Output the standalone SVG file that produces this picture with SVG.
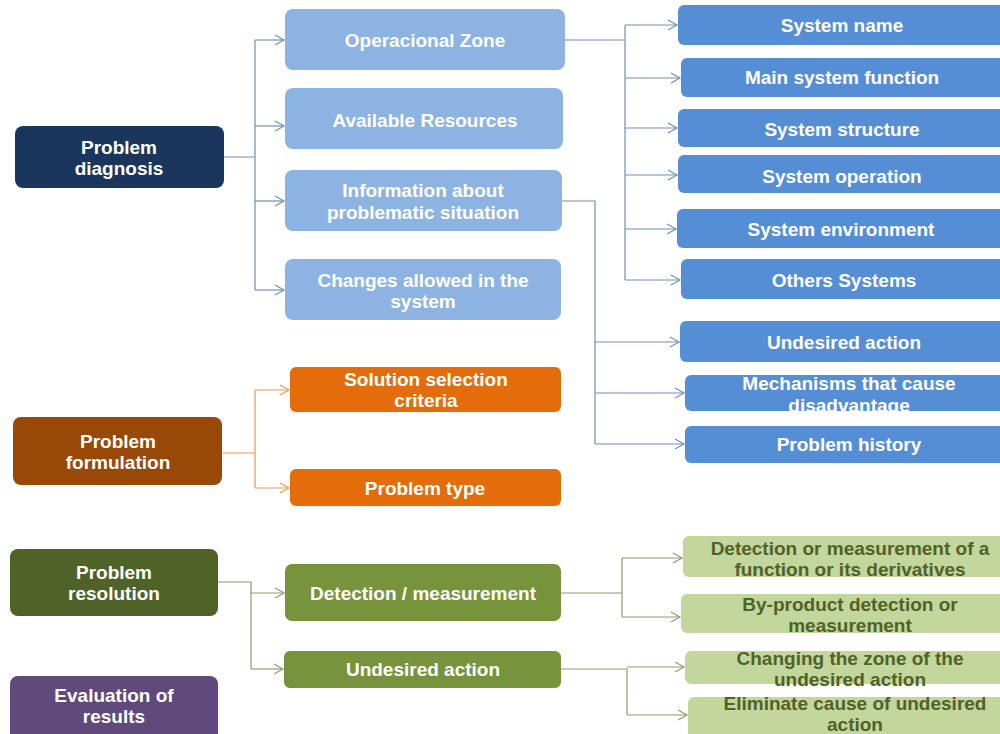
<svg xmlns="http://www.w3.org/2000/svg" width="1000" height="734" viewBox="0 0 1000 734">
  <defs>
    <marker id="arrBlue" markerUnits="userSpaceOnUse" markerWidth="12" markerHeight="12" refX="10" refY="6" orient="auto">
      <path d="M1,1 L10,6 L1,11" fill="none" stroke="#6f8fb8" stroke-width="1.2"/>
    </marker>
    <marker id="arrOrange" markerUnits="userSpaceOnUse" markerWidth="12" markerHeight="12" refX="10" refY="6" orient="auto">
      <path d="M1,1 L10,6 L1,11" fill="none" stroke="#e39a55" stroke-width="1.2"/>
    </marker>
    <marker id="arrGreen" markerUnits="userSpaceOnUse" markerWidth="12" markerHeight="12" refX="10" refY="6" orient="auto">
      <path d="M1,1 L10,6 L1,11" fill="none" stroke="#8e9c6a" stroke-width="1.2"/>
    </marker>
  </defs>
  <style>
    text { font-family: "Liberation Sans", Arial, sans-serif; font-weight: bold; font-size: 19px; text-anchor: middle; dominant-baseline: central; fill: #ffffff; }
    .navy { fill: #1a365c; }
    .lblue { fill: #8db3e2; }
    .mblue { fill: #558ed5; }
    .brown { fill: #984807; }
    .orange { fill: #e46c0a; }
    .olive { fill: #4f6228; }
    .green { fill: #77933c; }
    .lgreen { fill: #c3d69b; }
    .purple { fill: #604a7b; }
    text.dark { fill: #4f6228; }
    .cb { fill: none; stroke: #6f8fb8; stroke-width: 1.2; }
    .co { fill: none; stroke: #e39a55; stroke-width: 1.2; }
    .cg { fill: none; stroke: #8e9c6a; stroke-width: 1.2; }
  </style>
  <rect width="1000" height="734" fill="#ffffff"/>

  <!-- connectors -->
  <g id="connectors">
    <!-- diagnosis branch -->
    <path class="cb" d="M224,157 H255 M255,40 V290"/>
    <path class="cb" d="M255,40 H284" marker-end="url(#arrBlue)"/>
    <path class="cb" d="M255,126 H284" marker-end="url(#arrBlue)"/>
    <path class="cb" d="M255,201 H284" marker-end="url(#arrBlue)"/>
    <path class="cb" d="M255,290 H284" marker-end="url(#arrBlue)"/>
    <!-- operational zone branch -->
    <path class="cb" d="M565,40 H625 M625,25 V280"/>
    <path class="cb" d="M625,25 H677" marker-end="url(#arrBlue)"/>
    <path class="cb" d="M625,78 H680" marker-end="url(#arrBlue)"/>
    <path class="cb" d="M625,128 H677" marker-end="url(#arrBlue)"/>
    <path class="cb" d="M625,175 H677" marker-end="url(#arrBlue)"/>
    <path class="cb" d="M625,229 H676" marker-end="url(#arrBlue)"/>
    <path class="cb" d="M625,280 H680" marker-end="url(#arrBlue)"/>
    <!-- problematic situation branch -->
    <path class="cb" d="M562,201 H595 V444"/>
    <path class="cb" d="M595,342 H679" marker-end="url(#arrBlue)"/>
    <path class="cb" d="M595,393 H684" marker-end="url(#arrBlue)"/>
    <path class="cb" d="M595,444 H684" marker-end="url(#arrBlue)"/>
    <!-- formulation branch -->
    <path class="co" d="M222,453 H255 M255,390 V488"/>
    <path class="co" d="M255,390 H289" marker-end="url(#arrOrange)"/>
    <path class="co" d="M255,488 H289" marker-end="url(#arrOrange)"/>
    <!-- resolution branch -->
    <path class="cg" d="M218,582 H251 V669"/>
    <path class="cg" d="M251,593 H284" marker-end="url(#arrGreen)"/>
    <path class="cg" d="M251,669 H283" marker-end="url(#arrGreen)"/>
    <!-- detection branch -->
    <path class="cg" d="M561,593 H622 M622,558 V617"/>
    <path class="cg" d="M622,558 H682" marker-end="url(#arrGreen)"/>
    <path class="cg" d="M622,617 H680" marker-end="url(#arrGreen)"/>
    <!-- undesired action branch -->
    <path class="cg" d="M561,669 H627 V715"/>
    <path class="cg" d="M627,667 H684" marker-end="url(#arrGreen)"/>
    <path class="cg" d="M627,715 H687" marker-end="url(#arrGreen)"/>
  </g>

  <!-- level 1 -->
  <g id="problem-diagnosis">
    <rect class="navy" x="15" y="126" width="209" height="62" rx="8"/>
    <text x="119" y="147">Problem</text>
    <text x="119" y="168">diagnosis</text>
  </g>
  <g id="problem-formulation">
    <rect class="brown" x="13" y="417" width="209" height="68" rx="8"/>
    <text x="118" y="441">Problem</text>
    <text x="118" y="462">formulation</text>
  </g>
  <g id="problem-resolution">
    <rect class="olive" x="10" y="549" width="208" height="67" rx="8"/>
    <text x="114" y="572">Problem</text>
    <text x="114" y="593">resolution</text>
  </g>
  <g id="evaluation-of-results">
    <rect class="purple" x="10" y="676" width="208" height="66" rx="8"/>
    <text x="114" y="695">Evaluation of</text>
    <text x="114" y="716">results</text>
  </g>

  <!-- level 2 -->
  <g id="operational-zone">
    <rect class="lblue" x="285" y="9" width="280" height="61" rx="8"/>
    <text x="425" y="40">Operacional Zone</text>
  </g>
  <g id="available-resources">
    <rect class="lblue" x="285" y="88" width="278" height="61" rx="8"/>
    <text x="425" y="120">Available Resources</text>
  </g>
  <g id="problematic-situation">
    <rect class="lblue" x="285" y="170" width="277" height="61" rx="8"/>
    <text x="423" y="190">Information about</text>
    <text x="423" y="212">problematic situation</text>
  </g>
  <g id="changes-allowed">
    <rect class="lblue" x="285" y="259" width="276" height="61" rx="8"/>
    <text x="423" y="280">Changes allowed in the</text>
    <text x="423" y="301">system</text>
  </g>
  <g id="solution-selection">
    <rect class="orange" x="290" y="367" width="271" height="45" rx="6"/>
    <text x="426" y="379">Solution selection</text>
    <text x="426" y="400">criteria</text>
  </g>
  <g id="problem-type">
    <rect class="orange" x="290" y="469" width="271" height="37" rx="6"/>
    <text x="425" y="488">Problem type</text>
  </g>
  <g id="detection-measurement">
    <rect class="green" x="285" y="564" width="276" height="57" rx="7"/>
    <text x="423" y="593">Detection / measurement</text>
  </g>
  <g id="undesired-action-res">
    <rect class="green" x="284" y="651" width="277" height="37" rx="6"/>
    <text x="423" y="669">Undesired action</text>
  </g>

  <!-- level 3: operational zone details -->
  <g id="system-name">
    <rect class="mblue" x="678" y="5" width="334" height="40" rx="6"/>
    <text x="842" y="25">System name</text>
  </g>
  <g id="main-system-function">
    <rect class="mblue" x="681" y="58" width="331" height="39" rx="6"/>
    <text x="842" y="77">Main system function</text>
  </g>
  <g id="system-structure">
    <rect class="mblue" x="678" y="109" width="334" height="38" rx="6"/>
    <text x="842" y="129">System structure</text>
  </g>
  <g id="system-operation">
    <rect class="mblue" x="678" y="155" width="334" height="38" rx="6"/>
    <text x="842" y="176">System operation</text>
  </g>
  <g id="system-environment">
    <rect class="mblue" x="677" y="209" width="335" height="39" rx="6"/>
    <text x="841" y="229">System environment</text>
  </g>
  <g id="others-systems">
    <rect class="mblue" x="681" y="259" width="331" height="40" rx="6"/>
    <text x="844" y="280">Others  Systems</text>
  </g>

  <!-- level 3: problematic situation details -->
  <g id="undesired-action-diag">
    <rect class="mblue" x="680" y="321" width="332" height="41" rx="6"/>
    <text x="844" y="342">Undesired action</text>
  </g>
  <g id="mechanisms">
    <rect class="mblue" x="685" y="375" width="327" height="36" rx="6"/>
    <text x="849" y="383">Mechanisms that cause</text>
    <text x="849" y="405">disadvantage</text>
  </g>
  <g id="problem-history">
    <rect class="mblue" x="685" y="426" width="327" height="37" rx="6"/>
    <text x="849" y="444">Problem history</text>
  </g>

  <!-- level 3: resolution details -->
  <g id="function-detection">
    <rect class="lgreen" x="683" y="536" width="329" height="41" rx="6"/>
    <text class="dark" x="850" y="548">Detection or measurement of a</text>
    <text class="dark" x="850" y="569">function or its derivatives</text>
  </g>
  <g id="by-product-detection">
    <rect class="lgreen" x="681" y="594" width="331" height="39" rx="6"/>
    <text class="dark" x="850" y="604">By-product detection or</text>
    <text class="dark" x="850" y="625">measurement</text>
  </g>
  <g id="changing-zone">
    <rect class="lgreen" x="685" y="651" width="327" height="33" rx="6"/>
    <text class="dark" x="850" y="658">Changing the zone of the</text>
    <text class="dark" x="850" y="679">undesired action</text>
  </g>
  <g id="eliminate-cause">
    <rect class="lgreen" x="688" y="697" width="324" height="45" rx="6"/>
    <text class="dark" x="855" y="703">Eliminate cause of undesired</text>
    <text class="dark" x="855" y="724">action</text>
  </g>
</svg>
